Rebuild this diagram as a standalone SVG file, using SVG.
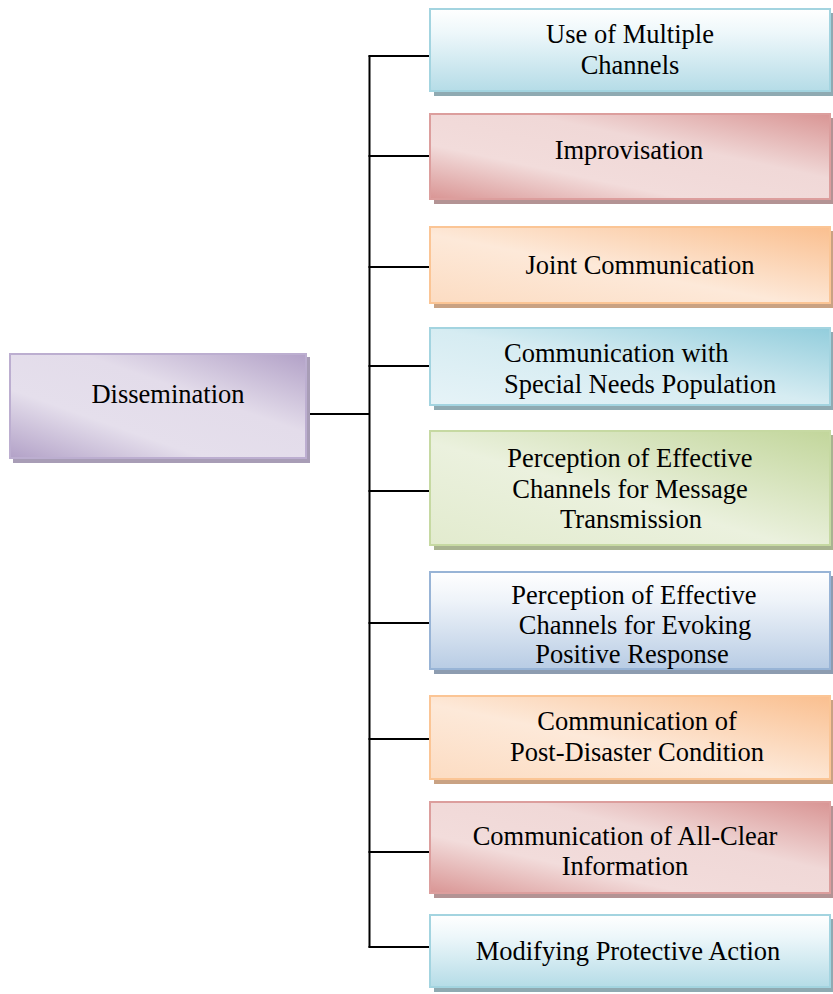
<svg xmlns="http://www.w3.org/2000/svg" width="833" height="994" viewBox="0 0 833 994">
<defs>
<linearGradient id="gBlueV" x1="0" y1="0" x2="0" y2="1"><stop offset="0" stop-color="#ffffff"/><stop offset="0.3" stop-color="#edf7fa"/><stop offset="1" stop-color="#b5dce7"/></linearGradient>
<linearGradient id="gBlueD" x1="1" y1="0" x2="0" y2="1"><stop offset="0" stop-color="#92cddc"/><stop offset="0.5" stop-color="#d6ecf2"/><stop offset="1" stop-color="#e6f3f7"/></linearGradient>
<linearGradient id="gRed" x1="0" y1="1" x2="1" y2="0"><stop offset="0" stop-color="#d99594"/><stop offset="0.32" stop-color="#f2dcdb"/><stop offset="0.62" stop-color="#f0d8d7"/><stop offset="1" stop-color="#d99594"/></linearGradient>
<linearGradient id="gOrange" x1="0" y1="1" x2="1" y2="0"><stop offset="0" stop-color="#fcdcc2"/><stop offset="0.45" stop-color="#fde9d9"/><stop offset="1" stop-color="#fabf8f"/></linearGradient>
<linearGradient id="gGreen" x1="0" y1="1" x2="1" y2="0"><stop offset="0" stop-color="#e2ebce"/><stop offset="0.45" stop-color="#ebf1de"/><stop offset="1" stop-color="#c2d69b"/></linearGradient>
<linearGradient id="gSteel" x1="0" y1="0" x2="0" y2="1"><stop offset="0" stop-color="#ffffff"/><stop offset="0.3" stop-color="#eef3f9"/><stop offset="1" stop-color="#b8cce4"/></linearGradient>
<linearGradient id="gPurple" x1="0" y1="1" x2="1" y2="0"><stop offset="0" stop-color="#b2a1c7"/><stop offset="0.33" stop-color="#e5dfec"/><stop offset="0.62" stop-color="#e3dcea"/><stop offset="1" stop-color="#b2a1c7"/></linearGradient>
</defs>
<style>
text{font-family:"Liberation Serif","Times New Roman",serif;font-size:26.5px;fill:#000;text-anchor:middle}
.conn{stroke:#000;stroke-width:2;fill:none}
.blueV{fill:url(#gBlueV);stroke:#a3d4e0;stroke-width:2}
.blueD{fill:url(#gBlueD);stroke:#a3d4e0;stroke-width:2}
.red{fill:url(#gRed);stroke:#dc9e9d;stroke-width:2}
.orange{fill:url(#gOrange);stroke:#fbc595;stroke-width:2}
.green{fill:url(#gGreen);stroke:#c6d9a2;stroke-width:2}
.steel{fill:url(#gSteel);stroke:#98b4d6;stroke-width:2}
.purple{fill:url(#gPurple);stroke:#bcaed0;stroke-width:2}
.shBlue{fill:#8faab2}
.shRed{fill:#b39394}
.shOrange{fill:#c9a283}
.shGreen{fill:#a8b390}
.shSteel{fill:#8d9cb0}
.shPurple{fill:#a89db6}
</style>
<g id="connectors">
<line class="conn" x1="369.5" y1="55.5" x2="369.5" y2="947.5"/>
<line class="conn" x1="306" y1="414" x2="369.5" y2="414"/>
<line class="conn" x1="368.5" y1="56" x2="430" y2="56"/>
<line class="conn" x1="368.5" y1="156" x2="430" y2="156"/>
<line class="conn" x1="368.5" y1="267" x2="430" y2="267"/>
<line class="conn" x1="368.5" y1="366" x2="430" y2="366"/>
<line class="conn" x1="368.5" y1="491" x2="430" y2="491"/>
<line class="conn" x1="368.5" y1="623" x2="430" y2="623"/>
<line class="conn" x1="368.5" y1="739" x2="430" y2="739"/>
<line class="conn" x1="368.5" y1="852" x2="430" y2="852"/>
<line class="conn" x1="368.5" y1="947" x2="430" y2="947"/>
</g>
<g id="dissemination">
<rect class="shPurple" x="13" y="357" width="297" height="106"/>
<rect class="purple" x="10" y="354" width="296" height="104"/>
<text x="168" y="403">Dissemination</text>
</g>
<g id="n1">
<rect class="shBlue" x="434" y="13" width="399" height="83"/>
<rect class="blueV" x="430" y="9" width="400" height="82"/>
<text x="630" y="43">Use of Multiple</text>
<text x="630" y="74">Channels</text>
</g>
<g id="n2">
<rect class="shRed" x="434" y="118" width="399" height="86"/>
<rect class="red" x="430" y="114" width="400" height="85"/>
<text x="629" y="159">Improvisation</text>
</g>
<g id="n3">
<rect class="shOrange" x="434" y="231" width="399" height="77"/>
<rect class="orange" x="430" y="227" width="400" height="76"/>
<text x="640" y="274">Joint Communication</text>
</g>
<g id="n4">
<rect class="shBlue" x="434" y="332" width="399" height="78"/>
<rect class="blueD" x="430" y="328" width="400" height="77"/>
<text x="504" y="362" style="text-anchor:start">Communication with</text>
<text x="504" y="393" style="text-anchor:start">Special Needs Population</text>
</g>
<g id="n5">
<rect class="shGreen" x="434" y="435" width="399" height="115"/>
<rect class="green" x="430" y="431" width="400" height="114"/>
<text x="630" y="467">Perception of Effective</text>
<text x="630" y="498">Channels for Message</text>
<text x="631" y="528">Transmission</text>
</g>
<g id="n6">
<rect class="shSteel" x="434" y="576" width="399" height="98"/>
<rect class="steel" x="430" y="572" width="400" height="97"/>
<text x="634" y="604">Perception of Effective</text>
<text x="635" y="634">Channels for Evoking</text>
<text x="632" y="663">Positive Response</text>
</g>
<g id="n7">
<rect class="shOrange" x="434" y="700" width="399" height="84"/>
<rect class="orange" x="430" y="696" width="400" height="83"/>
<text x="637" y="730">Communication of</text>
<text x="637" y="761">Post-Disaster Condition</text>
</g>
<g id="n8">
<rect class="shRed" x="434" y="806" width="399" height="92"/>
<rect class="red" x="430" y="802" width="400" height="91"/>
<text x="625" y="845">Communication of All-Clear</text>
<text x="625" y="875">Information</text>
</g>
<g id="n9">
<rect class="shBlue" x="434" y="919" width="399" height="73"/>
<rect class="blueV" x="430" y="915" width="400" height="72"/>
<text x="628" y="960">Modifying Protective Action</text>
</g>
</svg>
